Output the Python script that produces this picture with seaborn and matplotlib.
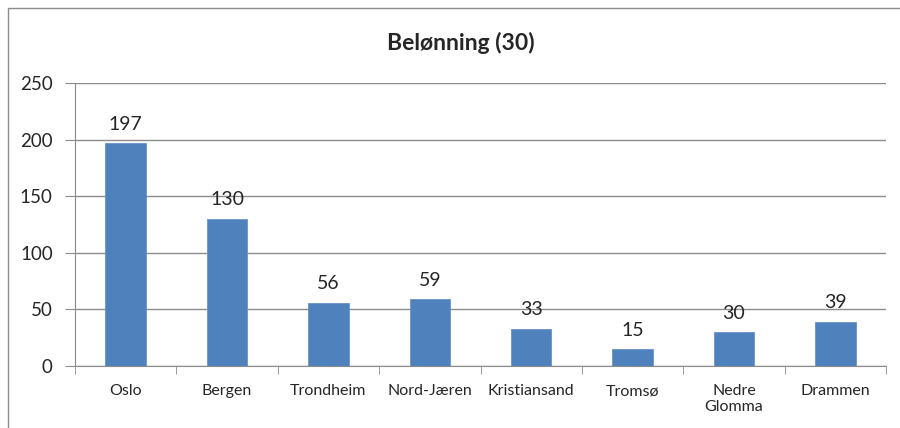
import matplotlib
matplotlib.use("Agg")
import matplotlib.pyplot as plt
from matplotlib.patches import Rectangle
import seaborn as sns
import numpy as np
import pandas as pd

# data
steder = ["Oslo", "Bergen", "Trondheim", "Nord-Jæren", "Kristiansand",
          "Tromsø", "Nedre\nGlomma", "Drammen"]
verdier = [197, 130, 56, 59, 33, 15, 30, 39]
tittel = "Belønning (30)"

sns.set_style("white")
plt.rcParams["font.family"] = ["Lato", "DejaVu Sans"]

df = pd.DataFrame({"sted": steder, "antall": verdier})

fig = plt.figure(figsize=(9, 4.28), dpi=100)
ax = fig.add_axes([75 / 900, 1 - 366 / 428, (886 - 75) / 900, (366 - 83) / 428])

sns.barplot(data=df, x="sted", y="antall", color="#4F81BD", width=0.4,
            saturation=1, ax=ax, edgecolor="#6A93C8", linewidth=0.6, zorder=3)

ax.set_ylim(0, 250)
ax.set_xlim(-0.5, len(steder) - 0.5)
ax.set_yticks(np.arange(0, 251, 50))
ax.yaxis.grid(True, color="#8C8C8C", linewidth=1, zorder=0)
ax.set_xlabel("")
ax.set_ylabel("")

for s in ["top", "right"]:
    ax.spines[s].set_visible(False)
ax.spines["left"].set_color("#8C8C8C")
ax.spines["bottom"].set_color("#8C8C8C")

ax.tick_params(axis="y", length=7, color="#8C8C8C", labelsize=13.5, pad=9, left=True)
ax.tick_params(axis="x", which="major", length=0, labelsize=11.5, pad=13)
ax.set_xticks(np.arange(-0.5, len(steder), 1), minor=True)
ax.tick_params(axis="x", which="minor", length=6, color="#8C8C8C", bottom=True)

for i, v in enumerate(verdier):
    ax.annotate(str(v), (i, v), xytext=(0, 7.5), textcoords="offset points",
                ha="center", va="bottom", fontsize=14)

fig.text(461 / 900, 1 - 43 / 428, tittel, ha="center", va="center",
         fontsize=16.5, fontweight="bold")

# chart border
fig.patches.append(Rectangle((8 / 900, -0.1), 1.2, 1.1 + (1 - 8 / 428) - 1,
                             transform=fig.transFigure, fill=False,
                             edgecolor="#8C8C8C", linewidth=1))

fig.savefig("out.png", dpi=100)
